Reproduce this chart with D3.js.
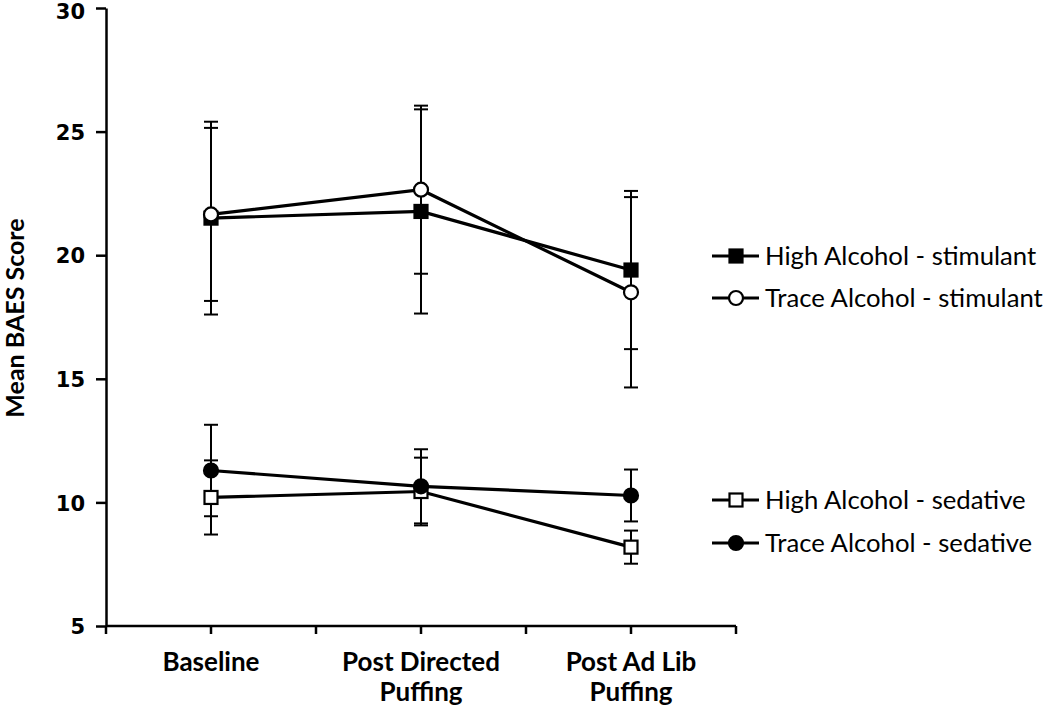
<!DOCTYPE html>
<html>
<head>
<meta charset="utf-8">
<script src="https://cdn.jsdelivr.net/npm/d3@7"></script>
<style>
  body { margin: 0; background: #fff; }
  svg { display: block; }
</style>
</head>
<body>
<div id="chart"></div>
<script>
// data
const categories = ["Baseline", "Post Directed Puffing", "Post Ad Lib Puffing"];
const categoryLines = [["Baseline"], ["Post Directed", "Puffing"], ["Post Ad Lib", "Puffing"]];
const seriesNames = ["High Alcohol - stimulant", "Trace Alcohol - stimulant", "High Alcohol - sedative", "Trace Alcohol - sedative"];
const highStim = [21.5, 21.77, 19.4];
const highStimErr = [3.9, 4.13, 3.2];
const traceStim = [21.65, 22.65, 18.5];
const traceStimErr = [3.5, 3.4, 3.85];
const highSed = [10.2, 10.44, 8.19];
const highSedErr = [1.5, 1.37, 0.67];
const traceSed = [11.29, 10.65, 10.28];
const traceSedErr = [1.85, 1.5, 1.05];
const yTicks = [5, 10, 15, 20, 25, 30];

const width = 1050, height = 709;
let margin = {top: 8, left: 106, right: 314, bottom: 83};

const series = [
  {name: seriesNames[0], values: highStim, err: highStimErr, shape: "square", fill: "#000"},
  {name: seriesNames[1], values: traceStim, err: traceStimErr, shape: "circle", fill: "#fff"},
  {name: seriesNames[2], values: highSed, err: highSedErr, shape: "square", fill: "#fff"},
  {name: seriesNames[3], values: traceSed, err: traceSedErr, shape: "circle", fill: "#000"}
];

const svg = d3.select("#chart").append("svg")
  .attr("width", width)
  .attr("height", height);

let x = d3.scaleBand()
  .domain(categories)
  .range([margin.left, width - margin.right])
  .padding(0);
let y = d3.scaleLinear()
  .domain([5, 30])
  .range([height - margin.bottom, margin.top]);

const cx = c => x(c) + x.bandwidth() / 2;

// Y axis
const yAxis = svg.append("g")
  .attr("transform", "translate(" + margin.left + ",0)")
  .call(d3.axisLeft(y).tickValues(yTicks).tickSize(10).tickSizeOuter(0).tickPadding(11));
yAxis.select(".domain").attr("stroke", "#000").attr("stroke-width", 2.5);
yAxis.selectAll(".tick line").attr("stroke", "#000").attr("stroke-width", 2.5);
yAxis.selectAll(".tick text")
  .attr("y", d => d === 30 ? 4 : 1)   // keep the top label inside the page
  .style("font-family", "'DejaVu Sans', Verdana, sans-serif")
  .style("font-weight", "bold")
  .style("font-size", "21px")
  .attr("fill", "#000");

// X axis - ticks at band edges and centres
const xTickPos = [];
categories.forEach(c => { xTickPos.push(x(c)); xTickPos.push(cx(c)); });
xTickPos.push(x.range()[1]);
const x0 = y(5);
svg.append("line")
  .attr("x1", x.range()[0]).attr("x2", x.range()[1])
  .attr("y1", x0).attr("y2", x0)
  .attr("stroke", "#000").attr("stroke-width", 2.5);
svg.selectAll("xtick")
  .data(xTickPos)
  .enter()
  .append("line")
    .attr("x1", d => d).attr("x2", d => d)
    .attr("y1", x0).attr("y2", x0 + 8)
    .attr("stroke", "#000").attr("stroke-width", 2.5);

categories.forEach((c, i) => {
  const t = svg.append("text")
    .attr("x", cx(c))
    .attr("y", 671)
    .attr("text-anchor", "middle")
    .style("font-family", "Lato, 'Open Sans', sans-serif")
    .style("font-weight", "bold")
    .style("font-size", "26px");
  categoryLines[i].forEach((ln, j) => {
    t.append("tspan").attr("x", cx(c)).attr("dy", j === 0 ? 0 : 30).text(ln);
  });
});

// Y title
svg.append("text")
  .attr("transform", "translate(24," + 318 + ") rotate(-90)")
  .attr("text-anchor", "middle")
  .style("font-family", "Lato, 'Open Sans', sans-serif")
  .style("font-weight", "bold")
  .style("font-size", "25px")
  .text("Mean BAES Score");

// error bars
const capW = 7;
series.forEach(s => {
  const g = svg.append("g");
  categories.forEach((c, i) => {
    const top = y(s.values[i] + s.err[i]), bot = y(s.values[i] - s.err[i]);
    g.append("line").attr("x1", cx(c)).attr("x2", cx(c)).attr("y1", top).attr("y2", bot)
      .attr("stroke", "#000").attr("stroke-width", 2);
    [top, bot].forEach(yy => {
      g.append("line").attr("x1", cx(c) - capW).attr("x2", cx(c) + capW).attr("y1", yy).attr("y2", yy)
        .attr("stroke", "#000").attr("stroke-width", 2);
    });
  });
});

function drawMarker(g, shape, fill, px, py) {
  if (shape === "square") {
    g.append("rect")
      .attr("x", px - 6.5).attr("y", py - 6.5)
      .attr("width", 13).attr("height", 13)
      .attr("fill", fill).attr("stroke", "#000").attr("stroke-width", 2.2);
  } else {
    g.append("circle")
      .attr("cx", px).attr("cy", py).attr("r", 7)
      .attr("fill", fill).attr("stroke", "#000").attr("stroke-width", 2.2);
  }
}

const line = d3.line()
  .x((d, i) => cx(categories[i]))
  .y(d => y(d));

// lines and markers
series.forEach(s => {
  svg.append("path")
    .datum(s.values)
    .attr("d", line)
    .attr("fill", "none")
    .attr("stroke", "#000")
    .attr("stroke-width", 3.2);
});
series.forEach(s => {
  const g = svg.append("g");
  s.values.forEach((v, i) => drawMarker(g, s.shape, s.fill, cx(categories[i]), y(v)));
});

// legend
const legendY = [256, 298, 500, 543];
series.forEach((s, i) => {
  const g = svg.append("g");
  g.append("line")
    .attr("x1", 712).attr("x2", 759)
    .attr("y1", legendY[i]).attr("y2", legendY[i])
    .attr("stroke", "#000").attr("stroke-width", 3);
  drawMarker(g, s.shape, s.fill, 736, legendY[i]);
  g.append("text")
    .attr("x", 765)
    .attr("y", legendY[i])
    .attr("dy", "0.36em")
    .style("font-family", "Lato, 'Open Sans', sans-serif")
    .style("font-size", "25.7px")
    .text(s.name);
});
</script>
</body>
</html>
